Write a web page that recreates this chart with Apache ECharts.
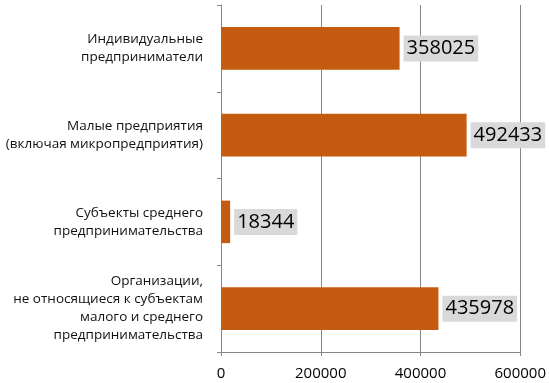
<!DOCTYPE html>
<html>
<head>
<meta charset="utf-8">
<script src="https://cdn.jsdelivr.net/npm/echarts@6/dist/echarts.min.js"></script>
<style>
  html, body { margin: 0; padding: 0; background: #fff; }
  #chart { width: 549px; height: 383px; }
</style>
</head>
<body>
<div id="chart"></div>
<script>
const categories = [
  "Индивидуальные\nпредприниматели",
  "Малые предприятия\n(включая микропредприятия)",
  "Субъекты среднего\nпредпринимательства",
  "Организации,\nне относящиеся к субъектам\nмалого и среднего\nпредпринимательства"
];
const values = [358025, 492433, 18344, 435978];
const xTicks = { min: 0, max: 600000, interval: 200000 };

const chart = echarts.init(document.getElementById("chart"));
chart.setOption({
  animation: false,
  textStyle: { fontFamily: "Open Sans" },
  grid: { left: 221, right: 27, top: 5, bottom: 31, containLabel: false },
  xAxis: {
    type: "value",
    min: xTicks.min,
    max: xTicks.max,
    interval: xTicks.interval,
    axisLine: { show: true, lineStyle: { color: "#868686", width: 1 } },
    axisTick: { show: true, length: 4, lineStyle: { color: "#868686" } },
    axisLabel: { color: "#000", fontSize: 15, margin: 14, formatter: v => String(v) },
    splitLine: { show: true, lineStyle: { color: "#868686", width: 1 } }
  },
  yAxis: {
    type: "category",
    inverse: true,
    data: categories,
    axisLine: { show: true, lineStyle: { color: "#868686", width: 1 } },
    axisTick: { show: true, length: 4, lineStyle: { color: "#868686" } },
    axisLabel: { color: "#111", fontSize: 13.5, lineHeight: 18, margin: 18, align: "right" },
    splitLine: { show: false }
  },
  series: [{
    type: "bar",
    data: values,
    barWidth: "49%",
    itemStyle: { color: "#C55A11" },
    label: {
      show: true,
      position: "right",
      distance: 4,
      color: "#000",
      fontSize: 20,
      backgroundColor: "#D9D9D9",
      padding: [4, 3, 2, 3]
    }
  }]
});
</script>
</body>
</html>
